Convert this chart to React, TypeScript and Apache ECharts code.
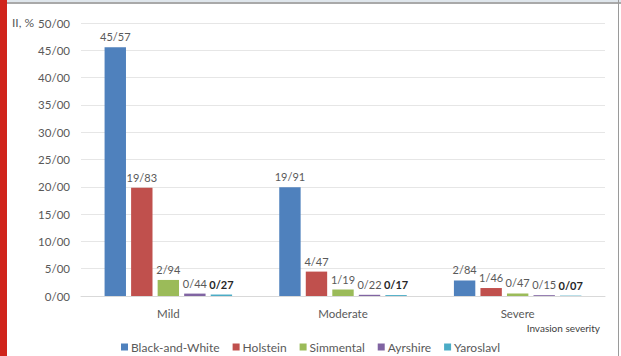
import React, { useEffect, useRef } from "react";
import * as echarts from "echarts";

const categories = ["Mild", "Moderate", "Severe"];
const seriesNames = ["Black-and-White", "Holstein", "Simmental", "Ayrshire", "Yaroslavl"];
const blackAndWhite = [45.57, 19.91, 2.84];
const holstein = [19.83, 4.47, 1.46];
const simmental = [2.94, 1.19, 0.47];
const ayrshire = [0.44, 0.22, 0.15];
const yaroslavl = [0.27, 0.17, 0.07];
const colors = ["#4F81BD", "#C0504D", "#9BBB59", "#8064A2", "#4BACC6"];

const FONT = "Lato";
const fmt = (v: number) => v.toFixed(2).replace(".", "/");

export default function App() {
  const ref = useRef<HTMLDivElement>(null);
  useEffect(() => {
    document.body.style.margin = "0";
    const chart = echarts.init(ref.current!, null, { renderer: "svg" });
    const data = [blackAndWhite, holstein, simmental, ayrshire, yaroslavl];
    chart.setOption({
      animation: false,
      backgroundColor: "#ffffff",
      textStyle: { fontFamily: FONT },
      grid: { left: 81, right: 16, top: 23, bottom: 60, containLabel: false },
      legend: {
        top: 341,
        left: "center",
        padding: 0,
        itemWidth: 7,
        itemHeight: 7,
        itemGap: 13,
        icon: "rect",
        textStyle: { fontFamily: FONT, fontSize: 12, color: "#595959", padding: [0, 0, 0, -2] },
        data: seriesNames,
      },
      xAxis: {
        type: "category",
        data: categories,
        axisLine: { lineStyle: { color: "#d9d9d9" } },
        axisTick: { show: false },
        axisLabel: { color: "#595959", fontSize: 11.5, fontFamily: FONT, margin: 11 },
      },
      yAxis: {
        type: "value",
        min: 0,
        max: 50,
        interval: 5,
        axisLine: { show: false },
        axisTick: { show: false },
        splitLine: { lineStyle: { color: "#e6e6e6" } },
        axisLabel: { color: "#595959", fontSize: 11.5, fontFamily: FONT, margin: 11, formatter: (v: number) => fmt(v) },
      },
      graphic: [
        { type: "rect", left: 0, top: 0, shape: { width: 7, height: 356 }, style: { fill: "#D0241B" }, z: 100 },
        { type: "rect", left: 7, top: 0, shape: { width: 614, height: 2 }, style: { fill: "#dfe6ec" }, z: 100 },
        { type: "rect", left: 7, top: 2, shape: { width: 614, height: 2 }, style: { fill: "#a9a9a9" }, z: 100 },
        { type: "rect", left: 618, top: 0, shape: { width: 1, height: 356 }, style: { fill: "#9a9a9a" }, z: 100 },
        { type: "text", left: 12, top: 16, style: { text: "II, %", fill: "#595959", font: `12px ${FONT}` } },
        { type: "text", right: 21, top: 323, style: { text: "Invasion severity", fill: "#404040", font: `10px ${FONT}` } },
      ],
      series: seriesNames.map((name, i) => ({
        name,
        type: "bar",
        data: data[i],
        itemStyle: { color: colors[i] },
        barGap: "24%",
        barCategoryGap: "27%",
        label: {
          show: true,
          position: "top",
          distance: 5,
          fontFamily: FONT,
          fontSize: 11,
          color: i === 4 ? "#262626" : "#595959",
          fontWeight: i === 4 ? "bold" : "normal",
          formatter: (p: any) => fmt(p.value),
        },
      })),
    });
    return () => chart.dispose();
  }, []);
  return <div ref={ref} style={{ position: "fixed", left: 0, top: 0, width: 621, height: 356 }} />;
}
